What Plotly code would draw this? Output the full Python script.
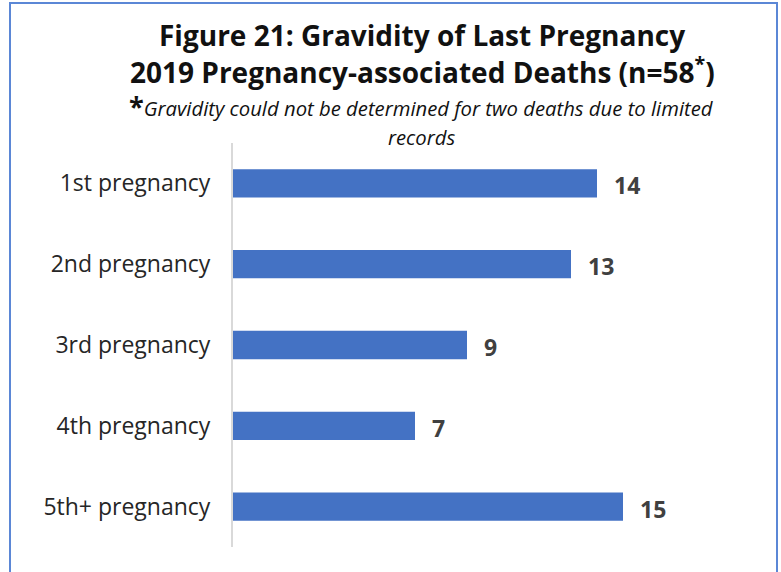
import plotly.graph_objects as go

# Data
categories = ["1st pregnancy", "2nd pregnancy", "3rd pregnancy", "4th pregnancy", "5th+ pregnancy"]
deaths = [14, 13, 9, 7, 15]

W, H = 781, 572
ML, MR, MT, MB = 233, 28, 143, 25
PW, PH = W - ML - MR, H - MT - MB


def px(x):
    return (x - ML) / PW


def py(y):
    return (H - MB - y) / PH


BAR = "#4472C4"

fig = go.Figure(
    go.Bar(
        x=deaths,
        y=categories,
        orientation="h",
        marker=dict(color=BAR, line=dict(width=0)),
        width=0.35,
        hoverinfo="x+y",
    )
)

# value labels to the right of each bar
for cat, v in zip(categories, deaths):
    fig.add_annotation(
        x=v, y=cat, xref="x", yref="y", text=f"<b>{v}</b>",
        showarrow=False, xanchor="left", yanchor="middle", xshift=15, yshift=-2,
        font=dict(family="Open Sans, sans-serif", size=23, color="#404040"),
    )

title_font = dict(family="Open Sans, sans-serif", size=28, color="#111111")
fig.add_annotation(x=px(422), y=py(35), xref="paper", yref="paper",
                   text="<b>Figure 21: Gravidity of Last Pregnancy</b>",
                   showarrow=False, xanchor="center", yanchor="middle", font=title_font)
fig.add_annotation(x=px(422), y=py(70), xref="paper", yref="paper",
                   text="<b>2019 Pregnancy-associated Deaths (n=58<sup style='font-size:18px'>*</sup>)</b>",
                   showarrow=False, xanchor="center", yanchor="middle", font=title_font)
sub_font = dict(family="Open Sans, sans-serif", size=20.3, color="#111111")
fig.add_annotation(x=px(421), y=py(106), xref="paper", yref="paper",
                   text="<span style='font-size:27px;font-style:normal'><b>*</b></span><i>Gravidity could not be determined for two deaths due to limited</i>",
                   showarrow=False, xanchor="center", yanchor="middle", font=sub_font)
fig.add_annotation(x=px(421), y=py(137), xref="paper", yref="paper",
                   text="<i>records</i>",
                   showarrow=False, xanchor="center", yanchor="middle", font=sub_font)

# outer frame
fig.add_shape(type="rect", xref="paper", yref="paper",
              x0=px(10), x1=px(777), y0=py(580), y1=py(3),
              line=dict(color="#5B87D6", width=2), fillcolor="rgba(0,0,0,0)", layer="below")

fig.update_layout(
    width=W, height=H,
    margin=dict(l=ML, r=MR, t=MT, b=MB, pad=0),
    paper_bgcolor="white", plot_bgcolor="white",
    showlegend=False,
    xaxis=dict(range=[0, 20], visible=False, fixedrange=True),
    yaxis=dict(
        categoryorder="array", categoryarray=categories, autorange="reversed",
        showline=True, linecolor="#D9D9D9", linewidth=2,
        showgrid=False, zeroline=False, ticks="",
        ticklabelstandoff=16,
        tickfont=dict(family="Open Sans, sans-serif", size=23, color="#262626"),
    ),
)

fig.write_html("out.html")
